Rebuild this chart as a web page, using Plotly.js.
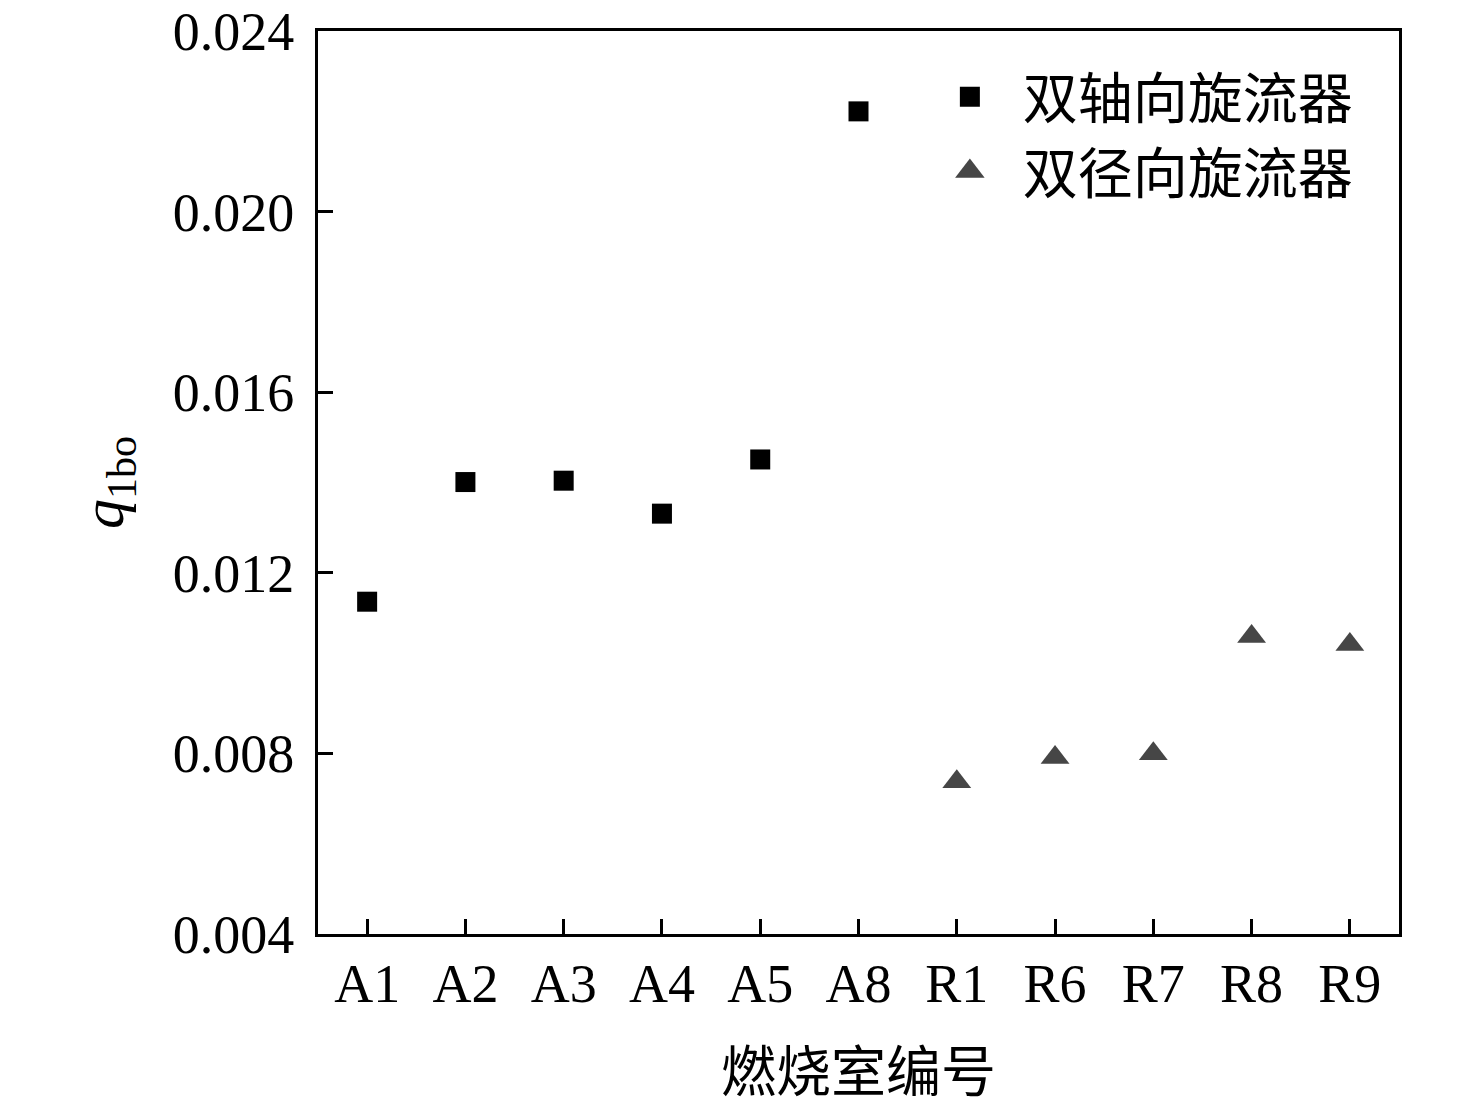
<!DOCTYPE html>
<html>
<head>
<meta charset="utf-8">
<script src="https://cdn.plot.ly/plotly-3.0.1.min.js"></script>
<style>html,body{margin:0;padding:0;background:#fff;}</style>
</head>
<body>
<div id="chart" style="width:1476px;height:1106px;"></div>
<script>
var categories = ["A1","A2","A3","A4","A5","A8","R1","R6","R7","R8","R9"];
var axialCats = ["A1","A2","A3","A4","A5","A8"];
var axialVals = [0.01136, 0.01401, 0.01404, 0.01331, 0.01451, 0.02222];
var radialCats = ["R1","R6","R7","R8","R9"];
var radialVals = [0.00737, 0.00791, 0.00799, 0.01059, 0.01041];
var yTicks = [0.004, 0.008, 0.012, 0.016, 0.020, 0.024];
var yTickText = ["0.004","0.008","0.012","0.016","0.020","0.024"];

var FONT = "Liberation Serif, 'Times New Roman', 'Noto Sans CJK SC', serif";

var traces = [
  {
    x: axialCats, y: axialVals, type: "scatter", mode: "markers",
    name: "双轴向旋流器",
    marker: {symbol: "square", size: 20, color: "#000000"}
  },
  {
    x: radialCats, y: radialVals, type: "scatter", mode: "markers",
    name: "双径向旋流器",
    marker: {symbol: "triangle-up", size: 25, color: "#464646"}
  }
];

var layout = {
  width: 1476, height: 1106,
  margin: {l: 318, r: 77, t: 31, b: 172},
  paper_bgcolor: "#ffffff", plot_bgcolor: "#ffffff",
  font: {family: FONT, size: 54, color: "#000"},
  showlegend: true,
  legend: {
    x: 0.554, y: 0.974, xanchor: "left", yanchor: "top",
    bgcolor: "rgba(0,0,0,0)", borderwidth: 0,
    font: {family: FONT, size: 55, color: "#000"},
    itemwidth: 96,
    tracegroupgap: 0, itemsizing: "trace"
  },
  xaxis: {
    type: "category",
    categoryorder: "array", categoryarray: categories,
    range: [-0.5, 10.5],
    showgrid: false, zeroline: false,
    showline: true, linecolor: "#000", linewidth: 3, mirror: true,
    ticks: "inside", ticklen: 15, tickwidth: 3, tickcolor: "#000",
    tickfont: {family: FONT, size: 54, color: "#000"},
    title: {text: "燃烧室编号", font: {family: FONT, size: 55, color: "#000"}, standoff: 40}
  },
  yaxis: {
    range: [0.004, 0.024],
    tickvals: yTicks, ticktext: yTickText,
    showgrid: false, zeroline: false,
    showline: true, linecolor: "#000", linewidth: 3, mirror: true,
    ticks: "inside", ticklen: 15, tickwidth: 3, tickcolor: "#000",
    ticklabelstandoff: 10,
    tickfont: {family: FONT, size: 54, color: "#000"},
    title: {text: "<i>q</i><sub>1bo</sub>", font: {family: FONT, size: 60, color: "#000"}, standoff: 30}
  }
};

Plotly.newPlot("chart", traces, layout, {displayModeBar: false, staticPlot: true}).then(function(gd){
  var scales = [1.25, 1.6];
  var groups = document.querySelectorAll('.legend .traces');
  groups.forEach(function(g, i){
    g.querySelectorAll('.legendpoints path.scatterpts').forEach(function(p){
      var t = p.getAttribute('transform') || '';
      p.setAttribute('transform', t + ' scale(' + scales[i] + ')');
    });
  });
});
</script>
</body>
</html>
